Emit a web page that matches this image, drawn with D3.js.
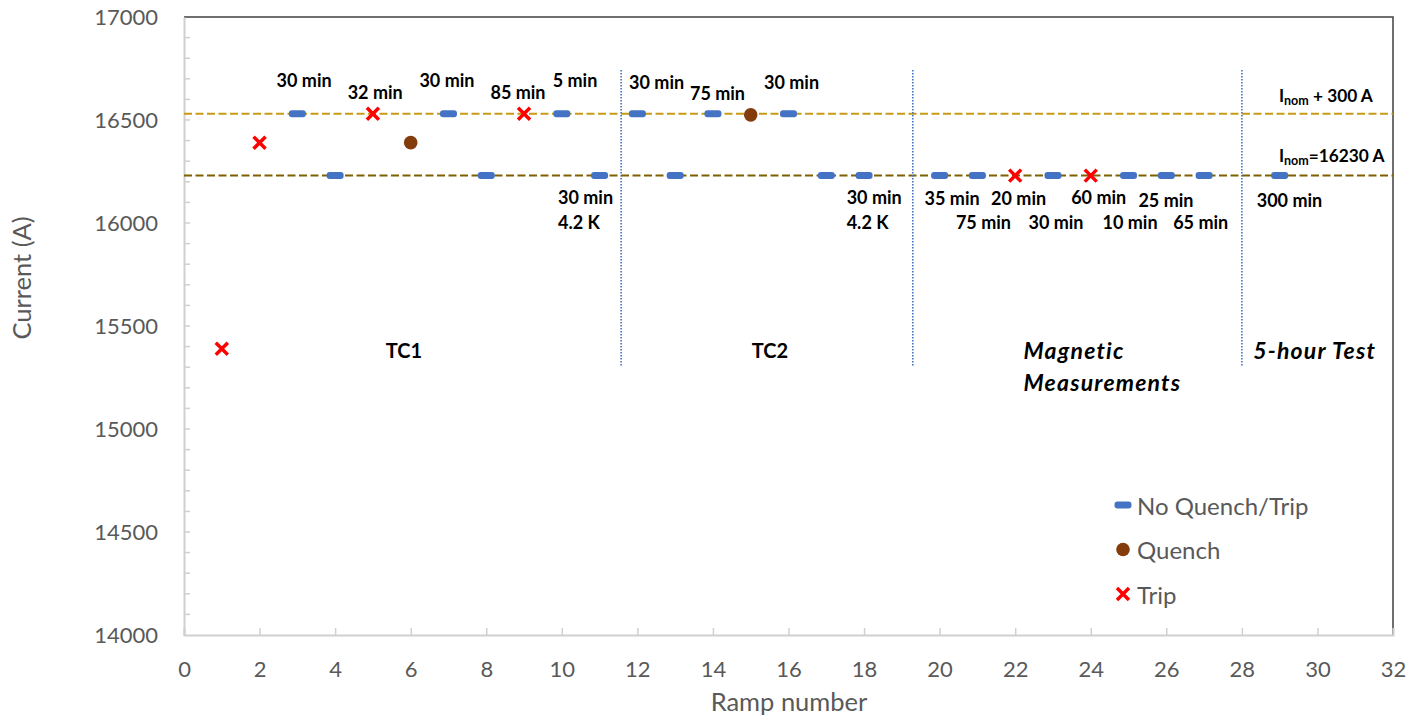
<!DOCTYPE html>
<html>
<head>
<meta charset="utf-8">
<script src="https://cdn.jsdelivr.net/npm/d3@7"></script>
<style>
  html, body { margin: 0; padding: 0; background: #fff; }
  svg { display: block; }
  text { font-family: Lato, "Open Sans", sans-serif; }
</style>
</head>
<body>
<svg id="chart" width="1408" height="717"></svg>
<script>
// ---------- data ----------
const noQuenchRamps   = [3, 4, 7, 8, 10, 11, 12, 13, 14, 16, 17, 18, 20, 21, 23, 25, 26, 27, 29];
const noQuenchCurrent = [16530, 16230, 16530, 16230, 16530, 16230, 16530, 16230, 16530, 16530, 16230, 16230, 16230, 16230, 16230, 16230, 16230, 16230, 16230];
const quenchRamps   = [6, 15];
const quenchCurrent = [16390, 16525];
const tripRamps   = [1, 2, 5, 9, 22, 24];
const tripCurrent = [15390, 16390, 16530, 16530, 16230, 16230];

const refLineCurrent = [16530, 16230];          // Inom + 300 A, Inom
const sectionBoundaries = [11.57, 19.29, 28];  // ramp numbers of dotted separators

const xTicks = [0, 2, 4, 6, 8, 10, 12, 14, 16, 18, 20, 22, 24, 26, 28, 30, 32];
const yTicks = [14000, 14500, 15000, 15500, 16000, 16500, 17000];

// duration annotations: text, ramp position, current position
const noteText    = ["30 min", "32 min", "30 min", "85 min", "5 min",
                     "30 min", "75 min", "30 min",
                     "35 min", "20 min", "60 min", "25 min", "75 min", "30 min", "10 min", "65 min", "300 min"];
const noteRamp    = [3.18, 5.06, 6.96, 8.84, 10.35,
                     12.51, 14.12, 16.08,
                     20.33, 22.09, 24.21, 25.99, 21.16, 23.08, 25.04, 26.91, 29.26];
const noteCurrent = [16694, 16636, 16694, 16636, 16694,
                     16686, 16630, 16686,
                     16120, 16120, 16128, 16112, 16006, 16006, 16006, 16006, 16112];

// cold-test notes (left aligned)
const coldText    = ["30 min", "4.2 K", "30 min", "4.2 K"];
const coldRamp    = [9.9, 9.9, 17.54, 17.54];
const coldCurrent = [16126, 16005, 16126, 16005];

// section titles
const sectionText    = ["TC1", "TC2", "Magnetic", "Measurements", "5-hour Test"];
const sectionRamp    = [5.82, 15.51, 22.22, 22.22, 28.3];
const sectionCurrent = [15383, 15383, 15383, 15228, 15383];
const sectionItalic  = [false, false, true, true, true];
const sectionAnchor  = ["middle", "middle", "start", "start", "start"];

const legendLabels = ["No Quench/Trip", "Quench", "Trip"];

// ---------- layout ----------
const svg = d3.select("#chart");
const plotL = 184, plotR = 1393, plotT = 17, plotB = 635;
const x = d3.scaleLinear().domain([0, 32]).range([plotL, plotR]);
const y = d3.scaleLinear().domain([14000, 17000]).range([plotB, plotT]);

const axisColor = "#D0D0D0";
const tickTextColor = "#595959";

// plot border (top & right)
svg.append("path")
  .attr("d", `M${plotL},${plotT}H${plotR}V${plotB}`)
  .attr("fill", "none").attr("stroke", "#404040").attr("stroke-width", 1.5);

// y axis
const yAxis = d3.axisLeft(y).tickValues(yTicks).tickSize(0).tickPadding(26).tickFormat(d3.format("d"));
const gy = svg.append("g").attr("transform", `translate(${plotL},0)`).call(yAxis);
gy.select(".domain").attr("stroke", axisColor).attr("stroke-width", 2);
gy.selectAll("text").attr("fill", tickTextColor).style("font-size", "22px").style("font-family", "Lato");
// minor inside ticks
const yMinor = d3.range(14100, 17000, 100);
svg.append("g").selectAll("line").data(yMinor).join("line")
  .attr("x1", plotL).attr("x2", plotL + 6)
  .attr("y1", d => y(d)).attr("y2", d => y(d))
  .attr("stroke", axisColor).attr("stroke-width", 1.5);

// x axis
const xAxis = d3.axisBottom(x).tickValues(xTicks).tickSize(-7).tickPadding(26);
const gx = svg.append("g").attr("transform", `translate(0,${plotB})`).call(xAxis);
gx.select(".domain").attr("stroke", axisColor).attr("stroke-width", 2);
gx.selectAll(".tick line").attr("stroke", axisColor).attr("stroke-width", 1.5);
gx.selectAll("text").attr("fill", tickTextColor).style("font-size", "22px").style("font-family", "Lato");

// axis titles
svg.append("text").attr("x", 789).attr("y", 711)
  .attr("text-anchor", "middle").attr("fill", tickTextColor)
  .style("font-size", "25.5px").text("Ramp number");
svg.append("text").attr("transform", `translate(31,278) rotate(-90)`)
  .attr("text-anchor", "middle").attr("fill", tickTextColor)
  .style("font-size", "25.5px").text("Current (A)");

// reference lines
const refColors = ["#C89B16", "#7F6000"];
svg.append("g").selectAll("line").data(refLineCurrent).join("line")
  .attr("x1", plotL).attr("x2", plotR)
  .attr("y1", d => y(d)).attr("y2", d => y(d))
  .attr("stroke", (d, i) => refColors[i]).attr("stroke-width", 2)
  .attr("stroke-dasharray", "8,3.5");

// section separators
svg.append("g").selectAll("line").data(sectionBoundaries).join("line")
  .attr("x1", d => x(d)).attr("x2", d => x(d))
  .attr("y1", 70).attr("y2", 367)
  .attr("stroke", "#4472C4").attr("stroke-width", 1.6)
  .attr("stroke-dasharray", "1.5,1.5");

// reference line labels
const refLab = svg.append("g").style("font-weight", "bold").style("font-size", "17.3px").attr("fill", "#000");
function inomLabel(ramp, cur, rest) {
  const t = refLab.append("text").attr("x", x(ramp)).attr("y", y(cur)).attr("dominant-baseline", "central");
  t.append("tspan").text("I");
  t.append("tspan").attr("dy", 5).style("font-size", "12.5px").text("nom");
  t.append("tspan").attr("dy", -5).text(rest);
}
inomLabel(28.98, 16621, " + 300 A");
inomLabel(28.98, 16330, "=16230 A");

// annotations
svg.append("g").selectAll("text").data(noteText).join("text")
  .attr("x", (d, i) => x(noteRamp[i])).attr("y", (d, i) => y(noteCurrent[i]))
  .attr("text-anchor", "middle").attr("dominant-baseline", "central")
  .style("font-weight", "bold").style("font-size", "18px").attr("fill", "#000")
  .text(d => d);
svg.append("g").selectAll("text").data(coldText).join("text")
  .attr("x", (d, i) => x(coldRamp[i])).attr("y", (d, i) => y(coldCurrent[i]))
  .attr("text-anchor", "start").attr("dominant-baseline", "central")
  .style("font-weight", "bold").style("font-size", "18px").attr("fill", "#000")
  .text(d => d);

// section titles
svg.append("g").selectAll("text").data(sectionText).join("text")
  .attr("x", (d, i) => x(sectionRamp[i])).attr("y", (d, i) => y(sectionCurrent[i]))
  .attr("text-anchor", (d, i) => sectionAnchor[i]).attr("dominant-baseline", "central")
  .style("font-weight", "bold").style("font-style", (d, i) => sectionItalic[i] ? "italic" : "normal")
  .style("font-size", (d, i) => sectionItalic[i] ? "23px" : "20px")
  .style("letter-spacing", (d, i) => sectionItalic[i] ? "1.2px" : "0px")
  .attr("fill", "#000")
  .text(d => d);

// markers
const nqColor = "#4472C4", qColor = "#843C0C", tColor = "#FF0000";
function dash(sel) {
  sel.append("rect").attr("x", -8.5).attr("y", -3.5).attr("width", 17).attr("height", 7)
    .attr("rx", 3).attr("fill", nqColor);
}
function cross(sel) {
  sel.append("path").attr("d", "M-6,-6L6,6M-6,6L6,-6")
    .attr("stroke", tColor).attr("stroke-width", 3.5).attr("fill", "none");
}
function dot(sel) {
  sel.append("circle").attr("r", 6.8).attr("fill", qColor);
}
svg.append("g").selectAll("g").data(noQuenchRamps).join("g")
  .attr("transform", (d, i) => `translate(${x(d)},${y(noQuenchCurrent[i])})`).call(dash);
svg.append("g").selectAll("g").data(quenchRamps).join("g")
  .attr("transform", (d, i) => `translate(${x(d)},${y(quenchCurrent[i])})`).call(dot);
svg.append("g").selectAll("g").data(tripRamps).join("g")
  .attr("transform", (d, i) => `translate(${x(d)},${y(tripCurrent[i])})`).call(cross);

// legend
const legend = svg.append("g").attr("transform", "translate(1123,505)");
const legendMarkers = [dash, dot, cross];
legendLabels.forEach((lab, i) => {
  const g = legend.append("g").attr("transform", `translate(0,${i * 44.5})`);
  g.append("g").call(legendMarkers[i]);
  g.append("text").attr("x", 14).attr("y", 0).attr("dominant-baseline", "central")
    .attr("fill", tickTextColor).style("font-size", "24px").text(lab);
});
</script>
</body>
</html>
